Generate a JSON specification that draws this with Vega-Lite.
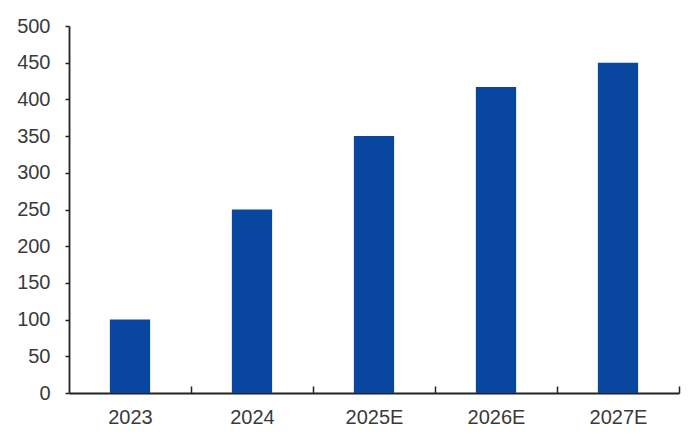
{
  "$schema": "https://vega.github.io/schema/vega-lite/v6.json",
  "width": 610,
  "height": 367,
  "autosize": {"type": "none"},
  "padding": {"left": 69, "top": 26, "right": 21, "bottom": 45},
  "background": "#ffffff",
  "data": {
    "values": [
      {"year": "2023", "value": 100},
      {"year": "2024", "value": 250},
      {"year": "2025E", "value": 350},
      {"year": "2026E", "value": 417},
      {"year": "2027E", "value": 450}
    ]
  },
  "mark": {"type": "bar", "color": "#0846A0"},
  "encoding": {
    "x": {
      "field": "year",
      "type": "nominal",
      "sort": null,
      "scale": {"paddingInner": 0.67, "paddingOuter": 0.335},
      "axis": {
        "title": null,
        "labelAngle": 0,
        "labelFont": "Liberation Sans",
        "labelFontSize": 20,
        "labelColor": "#3a3a3a",
        "labelPadding": 21,
        "labelOffset": -61,
        "domainColor": "#222222",
        "domainWidth": 1.8,
        "tickColor": "#222222",
        "tickWidth": 1.5,
        "tickSize": -7,
        "tickOffset": 61
      }
    },
    "y": {
      "field": "value",
      "type": "quantitative",
      "scale": {"domain": [0, 500]},
      "axis": {
        "title": null,
        "values": [0, 50, 100, 150, 200, 250, 300, 350, 400, 450, 500],
        "grid": false,
        "labelFont": "Liberation Sans",
        "labelFontSize": 20,
        "labelColor": "#3a3a3a",
        "labelPadding": 15,
        "domainColor": "#222222",
        "domainWidth": 1.8,
        "tickColor": "#222222",
        "tickWidth": 1.5,
        "tickSize": 4
      }
    }
  },
  "config": {"view": {"stroke": null}}
}
